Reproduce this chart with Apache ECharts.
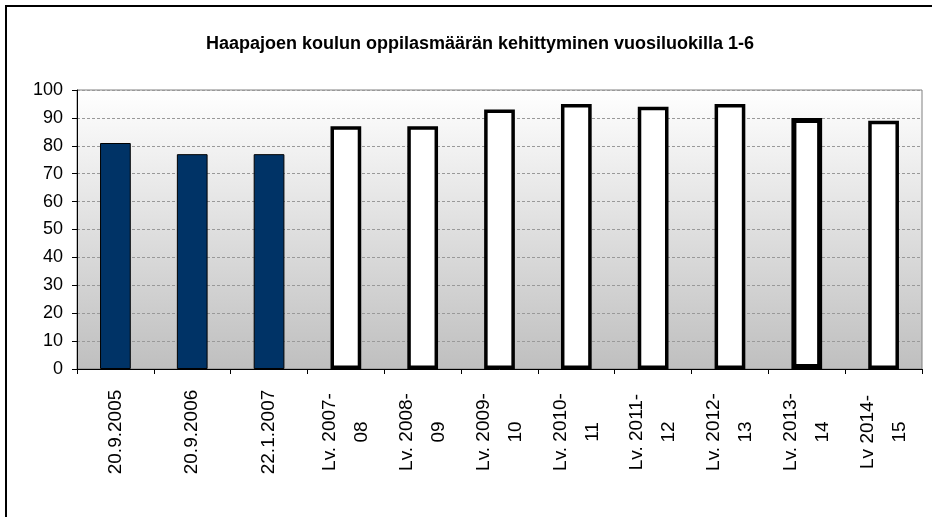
<!DOCTYPE html>
<html>
<head>
<meta charset="utf-8">
<title>Haapajoen koulun oppilasmäärä</title>
<script src="https://cdn.jsdelivr.net/npm/echarts@6/dist/echarts.min.js"></script>
<style>
    html, body { margin: 0; padding: 0; background: #fff; }
    #chart { width: 932px; height: 517px; }
</style>
</head>
<body>
<div id="chart"></div>
<script>
var titleText = 'Haapajoen koulun oppilasmäärän kehittyminen vuosiluokilla 1-6';
var categories = ['20.9.2005', '20.9.2006', '22.1.2007', 'Lv. 2007-\n08', 'Lv. 2008-\n09',
    'Lv. 2009-\n10', 'Lv. 2010-\n11', 'Lv. 2011-\n12', 'Lv. 2012-\n13', 'Lv. 2013-\n14', 'Lv 2014-\n15'];
var pupils = [81, 77, 77, 87, 87, 93, 95, 94, 95, 90, 89];
var yTicks = [0, 10, 20, 30, 40, 50, 60, 70, 80, 90, 100];

var font = 'Liberation Sans, Arial, sans-serif';

// päivämäärät tummina, lukuvuodet valkoisina
var barData = [];
for (var i = 0; i < pupils.length; i++) {
    var isYear = categories[i].indexOf('Lv') === 0;
    barData.push({
        value: pupils[i],
        itemStyle: isYear ? {
            color: '#ffffff',
            borderColor: '#000000',
            borderWidth: categories[i].indexOf('2013') > 0 ? 5 : 3.5
        } : {
            color: '#003366',
            borderColor: '#000000',
            borderWidth: 1
        }
    });
}

var myChart = echarts.init(document.getElementById('chart'));
var option = {
    animation: false,
    backgroundColor: '#ffffff',
    title: {
        text: titleText,
        left: 475,
        top: 30,
        textAlign: 'center',
        textStyle: {
            fontFamily: font,
            fontSize: 18,
            fontWeight: 'bold',
            color: '#000'
        }
    },
    graphic: [{
        type: 'rect',
        shape: { x: 6, y: 6, width: 940, height: 530 },
        style: { fill: 'none', stroke: '#000', lineWidth: 2 },
        silent: true
    }],
    grid: {
        left: 77,
        right: 10,
        top: 90,
        bottom: 148,
        show: true,
        borderColor: '#808080',
        borderWidth: 1,
        backgroundColor: new echarts.graphic.LinearGradient(0, 0, 0, 1, [
            { offset: 0, color: '#ffffff' },
            { offset: 1, color: '#bfbfbf' }
        ])
    },
    xAxis: {
        type: 'category',
        data: categories,
        axisLine: { lineStyle: { color: '#000', width: 1 } },
        axisTick: { show: true, length: 5, lineStyle: { color: '#000' } },
        axisLabel: {
            interval: 0,
            rotate: 90,
            align: 'center',
            margin: 63,
            lineHeight: 32,
            fontFamily: font,
            fontSize: 19,
            color: '#000'
        }
    },
    yAxis: {
        type: 'value',
        min: yTicks[0],
        max: yTicks[yTicks.length - 1],
        interval: 10,
        axisLine: { show: true, lineStyle: { color: '#000', width: 1 } },
        axisTick: { show: true, length: 5, lineStyle: { color: '#000' } },
        axisLabel: {
            margin: 14,
            fontFamily: font,
            fontSize: 18,
            color: '#000'
        },
        splitLine: {
            show: true,
            lineStyle: { color: '#999999', type: [3, 2], width: 1 }
        }
    },
    series: [{
        name: 'Oppilaat',
        type: 'bar',
        data: barData,
        barWidth: '40%'
    }]
};
myChart.setOption(option);
</script>
</body>
</html>
